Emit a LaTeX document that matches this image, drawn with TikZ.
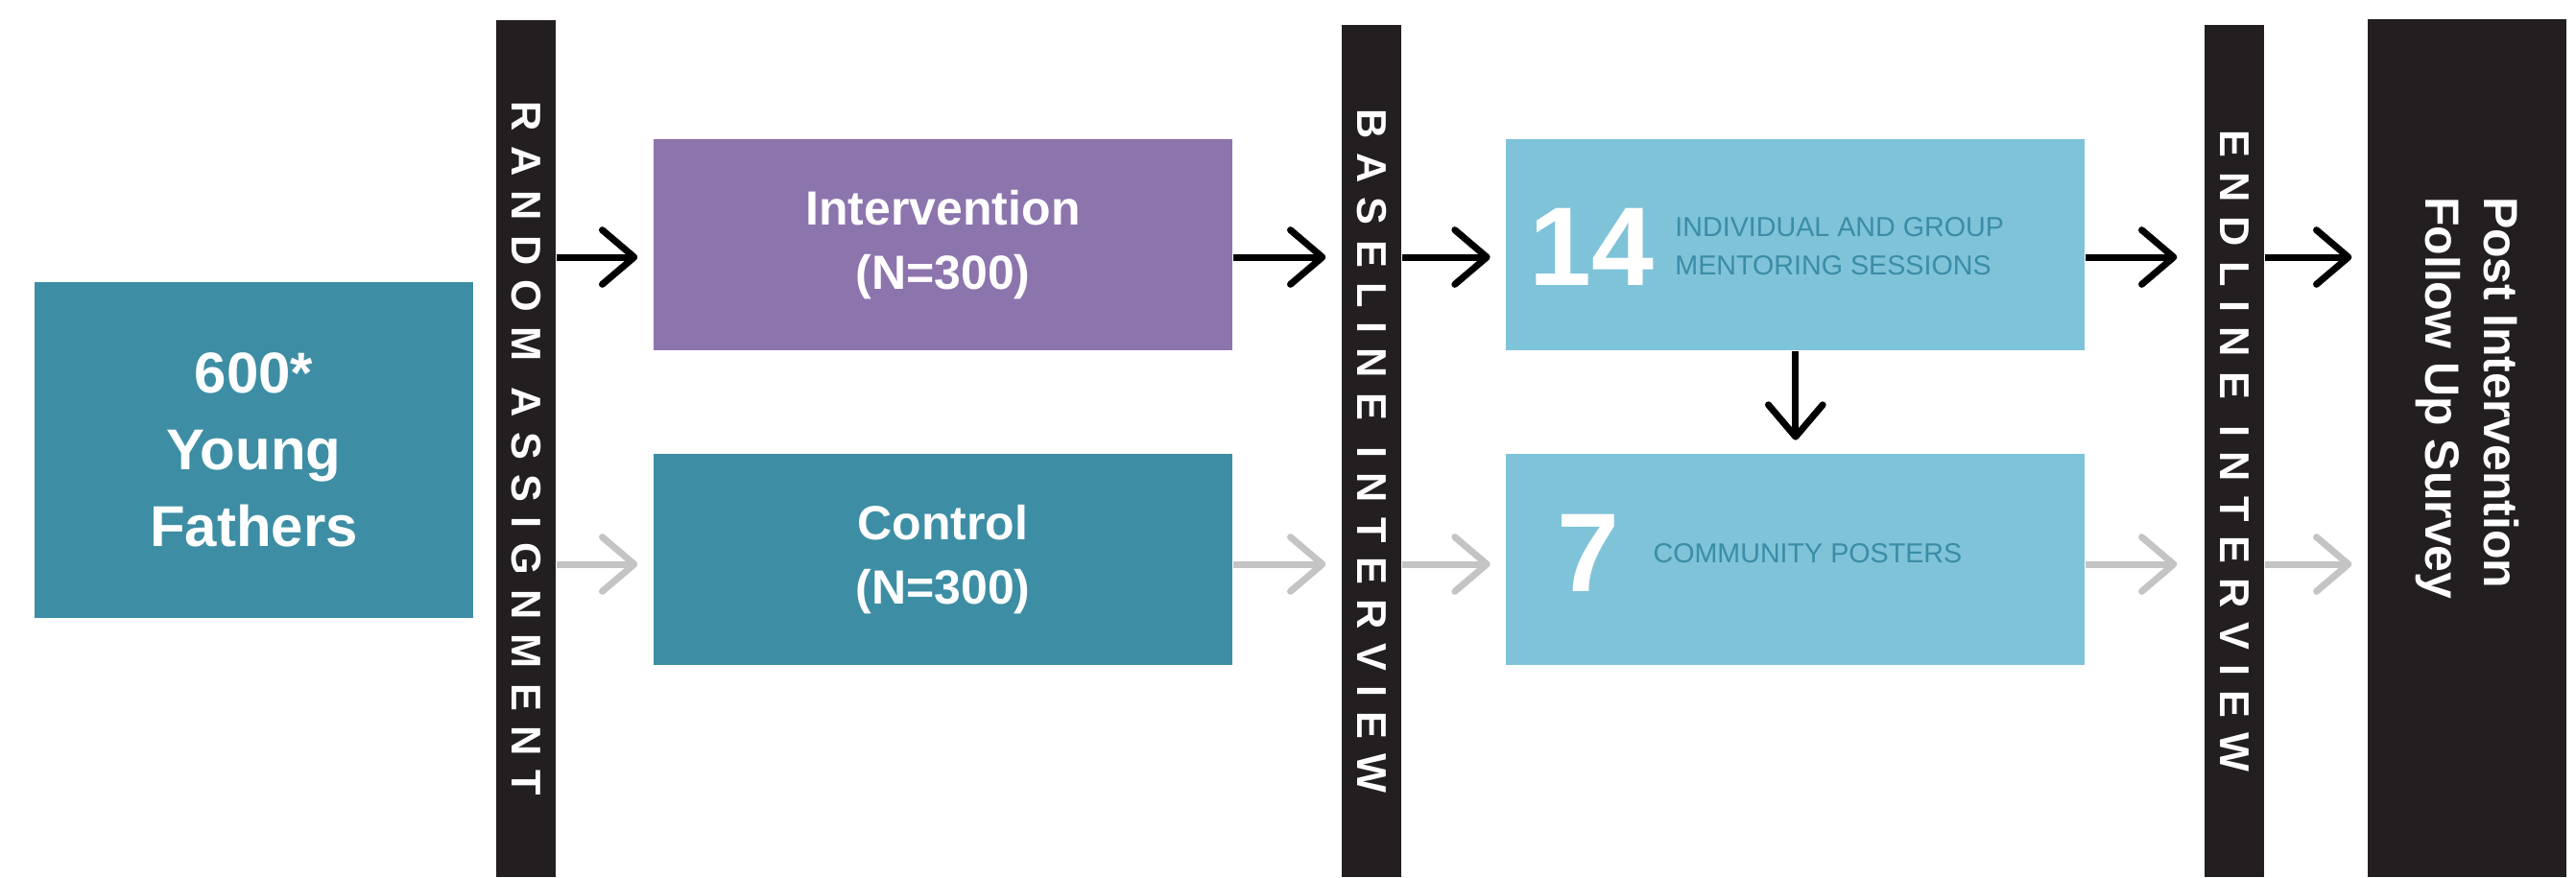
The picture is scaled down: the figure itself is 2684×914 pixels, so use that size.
\documentclass[tikz,border=0pt]{standalone}
\usepackage{fontspec}
\setmainfont{Liberation Sans}
\newfontfamily\barfont{Liberation Sans}[LetterSpace=35]
\usetikzlibrary{positioning, arrows.meta}
\newdimen\pxu \pxu=0.3pt
\definecolor{tealbox}{HTML}{3D8EA4}
\definecolor{purplebox}{HTML}{8C74AD}
\definecolor{skybox}{HTML}{7FC3D8}
\definecolor{barblack}{HTML}{231F20}
\definecolor{arrowgray}{HTML}{C4C4C4}
\definecolor{notetext}{HTML}{3A8DA6}

\begin{document}
\begin{tikzpicture}[x=0.3pt, y=-0.3pt,
    box/.style={rectangle, inner sep=0pt, minimum width=603\pxu, minimum height=220\pxu, text=white, align=center, font=\bfseries\fontsize{15}{20}\selectfont},
    bar/.style={rectangle, fill=barblack, rotate=-90, inner sep=0pt, minimum height=62\pxu, text=white, font=\barfont\bfseries\fontsize{13}{13}\selectfont},
    count/.style={inner sep=0pt, text=white, font=\bfseries\fontsize{35}{35}\selectfont},
    note/.style={inner sep=0pt, text=notetext, align=left, font=\fontsize{8.6}{12}\selectfont},
    go/.style={-{Straight Barb[length=10pt, width=17pt, round]}, line width=2.1pt, shorten >=16\pxu},
    lead/.style={go, black},
    fade/.style={go, arrowgray}]
    \useasboundingbox (0,0) rectangle (2684,914);

    \node[box, fill=tealbox, minimum width=457\pxu, minimum height=350\pxu, font=\bfseries\fontsize{18}{24}\selectfont] (fathers) at (264.5,469) {600*\\Young\\Fathers};
    \node[bar, minimum width=893\pxu] (random) at (548,467.5) {RANDOM ASSIGNMENT};
    \node[box, fill=purplebox] (intervention) at (982.5,255) {Intervention\\(N=300)};
    \node[box, fill=tealbox, below=107\pxu of intervention] (control) {Control\\(N=300)};
    \node[bar, minimum width=888\pxu] (baseline) at (1429,470) {BASELINE INTERVIEW};
    \node[box, fill=skybox, right=284\pxu of intervention] (mentoring) {};
    \node[box, fill=skybox, below=107\pxu of mentoring] (posters) {};
    \node[count, anchor=west] (fourteen) at ([xshift=24\pxu, yshift=-2\pxu]mentoring.west) {14};
    \node[note, right=21\pxu of fourteen] (mentoring note) {INDIVIDUAL AND GROUP\\MENTORING SESSIONS};
    \node[count, anchor=west] (seven) at ([xshift=53\pxu, yshift=7\pxu]posters.west) {7};
    \node[note, right=34\pxu of seven] (posters note) {COMMUNITY POSTERS};
    \node[bar, minimum width=888\pxu] (endline) at (2328,470) {ENDLINE INTERVIEW};
    \node[rectangle, fill=barblack, inner sep=0pt, minimum width=207\pxu, minimum height=894\pxu] (survey box) at (2570.5,467) {};
    \node[rotate=-90, anchor=north west, inner sep=0pt, text=white, align=left, font=\bfseries\fontsize{15}{18.3}\selectfont] (survey) at ([xshift=-49\pxu, yshift=-185\pxu]survey box.north east) {Post Intervention\\Follow Up Survey};

    \coordinate (upper lane) at (0,268);
    \coordinate (lower lane) at (0,588);
    \draw[lead] (random.north |- upper lane) -- (intervention.west |- upper lane);
    \draw[fade] (random.north |- lower lane) -- (control.west |- lower lane);
    \draw[lead] (intervention.east |- upper lane) -- (baseline.south |- upper lane);
    \draw[fade] (control.east |- lower lane) -- (baseline.south |- lower lane);
    \draw[lead] (baseline.north |- upper lane) -- (mentoring.west |- upper lane);
    \draw[fade] (baseline.north |- lower lane) -- (posters.west |- lower lane);
    \draw[lead, shorten >=28\pxu] (mentoring.east |- upper lane) -- (endline.south |- upper lane);
    \draw[fade, shorten >=28\pxu] (posters.east |- lower lane) -- (endline.south |- lower lane);
    \draw[lead] (endline.north |- upper lane) -- (survey box.west |- upper lane);
    \draw[fade] (endline.north |- lower lane) -- (survey box.west |- lower lane);
    \draw[lead, shorten >=14\pxu] (mentoring) -- (posters);
\end{tikzpicture}
\end{document}
